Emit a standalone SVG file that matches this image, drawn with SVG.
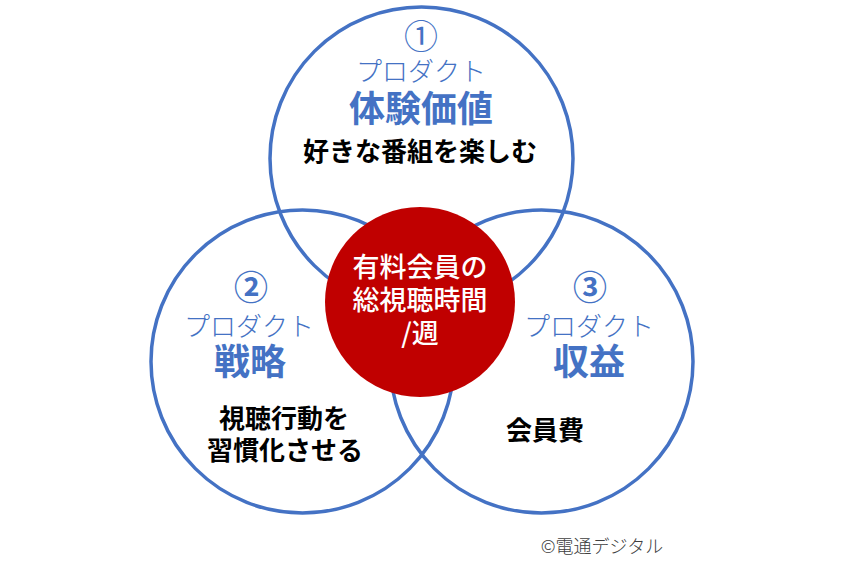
<svg xmlns="http://www.w3.org/2000/svg" width="849" height="565" viewBox="0 0 849 565">
<style>
text{font-family:"Noto Sans CJK JP","Noto Sans",sans-serif;text-anchor:middle}
.ring{fill:none;stroke:#4472C4;stroke-width:3.5}
.num{fill:#4472C4;font-size:34px}
.bnum{font-weight:bold}
.prod{fill:#4472C4;font-size:26px;font-weight:300}
.head{fill:#4472C4;font-size:36px;font-weight:bold}
.desc{fill:#000;font-size:26px;font-weight:bold}
.core{fill:#fff;font-size:27px;font-weight:500}
</style>
<rect width="849" height="565" fill="#fff"/>
<g id="connectors"></g>
<g id="node-top">
<circle class="ring" cx="421.5" cy="158.5" r="151.5"/>
<text class="num" x="421" y="49">①</text>
<text class="prod" x="421" y="81">プロダクト</text>
<text class="head" x="421" y="122">体験価値</text>
<text class="desc" x="420" y="161">好きな番組を楽しむ</text>
</g>
<g id="node-left">
<circle class="ring" cx="302.5" cy="361.5" r="151.5"/>
<text class="num bnum" x="251" y="300">②</text>
<text class="prod" x="249" y="336">プロダクト</text>
<text class="head" x="250" y="375">戦略</text>
<text class="desc" x="284" y="428">視聴行動を</text>
<text class="desc" x="285" y="460">習慣化させる</text>
</g>
<g id="node-right">
<circle class="ring" cx="541.5" cy="361.5" r="151.5"/>
<text class="num bnum" x="590" y="300">③</text>
<text class="prod" x="589" y="336">プロダクト</text>
<text class="head" x="589" y="375">収益</text>
<text class="desc" x="545" y="440">会員費</text>
</g>
<g id="node-center">
<circle cx="420" cy="302" r="95" fill="#C00000"/>
<text class="core" x="420" y="277">有料会員の</text>
<text class="core" x="420" y="310">総視聴時間</text>
<text class="core" x="420" y="343">/週</text>
</g>
<text x="602" y="553" style="fill:#404040;font-size:18px;font-weight:300">©電通デジタル</text>
</svg>
